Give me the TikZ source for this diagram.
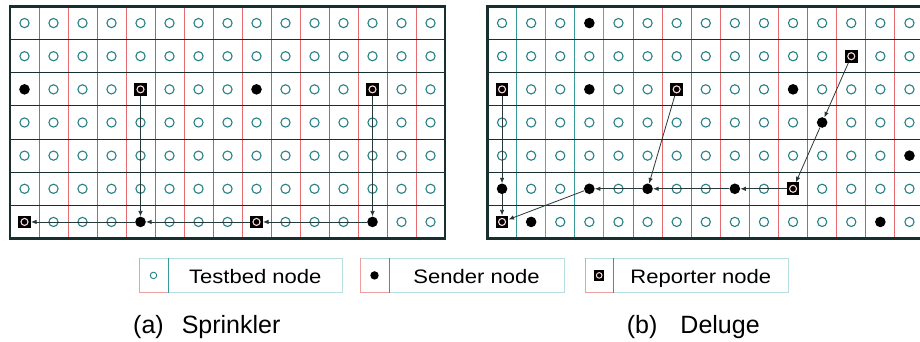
\documentclass[tikz,border=0pt]{standalone}
\usepackage{fontspec}
\setmainfont{Liberation Sans}
\newfontfamily\legfont{Liberation Sans}[FakeStretch=1.13]
\usetikzlibrary{arrows.meta}
\definecolor{gtea}{rgb}{0.22,0.60,0.60}
\definecolor{gred}{rgb}{0.90,0.42,0.44}
\definecolor{gdark}{rgb}{0.10,0.18,0.18}
\definecolor{ctea}{rgb}{0.15,0.50,0.52}
\definecolor{boxc}{rgb}{0.72,0.87,0.87}
\definecolor{boxr}{rgb}{0.93,0.62,0.62}
\definecolor{arrc}{rgb}{0.15,0.22,0.22}
\tikzset{
  tb/.style={circle,draw=ctea,line width=1.1pt,minimum size=9.2pt,inner sep=0pt},
  snd/.style={circle,fill=black,minimum size=10.6pt,inner sep=0pt},
  rep/.style={rectangle,fill=black,minimum size=12.6pt,inner sep=0pt,
    path picture={\draw[white!85!red,line width=1.1pt] (path picture bounding box.center) circle (3.5pt);}},
  legrep/.style={rep,minimum size=10.5pt,
    path picture={\draw[white!85!red,line width=1pt] (path picture bounding box.center) circle (2.8pt);}},
  arr/.style={draw=arrc,line width=0.8pt,-{Latex[length=5.5pt,width=4.5pt]}},
  vlinea/.style={draw=gtea,line width=0.9pt},
  vlineb/.style={draw=gred,line width=0.9pt},
  hline/.style={draw=gdark,line width=0.9pt},
  frame/.style={draw=gdark,line width=2.6pt},
  legbox/.style={draw=boxc,line width=0.8pt},
  legtext/.style={anchor=base,inner sep=0pt,font=\legfont\fontsize{19.5}{22}\selectfont,text=black},
  captext/.style={anchor=base west,inner sep=0pt,font=\fontsize{25}{28}\selectfont,text=black}
}
\newcommand\markspecial[3]{\expandafter\def\csname sp#1-#2-#3\endcsname{}}
% left panel specials
\markspecial{L}{1}{3}\markspecial{L}{9}{3}\markspecial{L}{5}{7}\markspecial{L}{13}{7}
\markspecial{L}{5}{3}\markspecial{L}{13}{3}\markspecial{L}{1}{7}\markspecial{L}{9}{7}
% right panel specials
\markspecial{R}{4}{1}\markspecial{R}{4}{3}\markspecial{R}{11}{3}\markspecial{R}{12}{4}
\markspecial{R}{15}{5}\markspecial{R}{1}{6}\markspecial{R}{4}{6}\markspecial{R}{6}{6}
\markspecial{R}{9}{6}\markspecial{R}{2}{7}\markspecial{R}{14}{7}
\markspecial{R}{13}{2}\markspecial{R}{1}{3}\markspecial{R}{7}{3}\markspecial{R}{11}{6}\markspecial{R}{1}{7}
\begin{document}
\begin{tikzpicture}[x=1pt,y=-1pt]
\useasboundingbox (0,0) rectangle (920,342);
\clip (0,0) rectangle (920,342);
% ---------- grids ----------
\foreach \P/\xo/\cw in {L/10/29, R/487.5/29.1} {
  \foreach \i in {1,...,14} {
    \ifodd\i\def\vs{vlinea}\else\def\vs{vlineb}\fi
    \draw[\vs] ({\xo+\i*\cw},6.5) -- ({\xo+\i*\cw},238.5);
  }
  \foreach \j in {1,...,6} {
    \draw[hline] (\xo,{6.5+\j*33.143}) -- ({\xo+15*\cw},{6.5+\j*33.143});
  }
  \draw[frame] (\xo,6.5) rectangle ({\xo+15*\cw},238.5);
  \foreach \c in {1,...,15} {
    \foreach \r in {1,...,7} {
      \coordinate (c\P-\c-\r) at ({\xo+(\c-0.5)*\cw},{6.5+(\r-0.5)*33.143});
      \ifcsname sp\P-\c-\r\endcsname\else
        \node[tb] (\P-\c-\r) at (c\P-\c-\r) {};
      \fi
    }
  }
}
% ---------- left panel: Sprinkler ----------
\foreach \c/\r in {1/3,9/3,5/7,13/7} { \node[snd] (L-\c-\r) at (cL-\c-\r) {}; }
\foreach \c/\r in {5/3,13/3,1/7,9/7} { \node[rep] (L-\c-\r) at (cL-\c-\r) {}; }
\draw[arr] (L-5-3) -- (L-5-7);
\draw[arr] (L-13-3) -- (L-13-7);
\draw[arr] (L-13-7) -- (L-9-7);
\draw[arr] (L-9-7) -- (L-5-7);
\draw[arr] (L-5-7) -- (L-1-7);
% ---------- right panel: Deluge ----------
\foreach \c/\r in {4/1,4/3,11/3,12/4,15/5,1/6,4/6,6/6,9/6,2/7,14/7} { \node[snd] (R-\c-\r) at (cR-\c-\r) {}; }
\foreach \c/\r in {13/2,1/3,7/3,11/6,1/7} { \node[rep] (R-\c-\r) at (cR-\c-\r) {}; }
\draw[arr] (R-13-2) -- (R-12-4);
\draw[arr] (R-12-4) -- (R-11-6);
\draw[arr] (R-11-6) -- (R-9-6);
\draw[arr] (R-9-6) -- (R-6-6);
\draw[arr] (R-7-3) -- (R-6-6);
\draw[arr] (R-6-6) -- (R-4-6);
\draw[arr] (R-4-6) -- (R-1-7);
\draw[arr] (R-1-3) -- (R-1-6);
\draw[arr] (R-1-6) -- (R-1-7);
% ---------- legend ----------
\draw[legbox] (139,258.3) rectangle (342.3,292.5);
\draw[legbox,draw=gtea] (168.3,258.3) -- (168.3,292.5);
\draw[draw=boxr,line width=0.8pt] (139,258.3) -- (139,292.5) -- (168.3,292.5);
\node[tb,line width=0.9pt,minimum size=6.5pt] (m1) at (153.5,275.4) {};
\node[legtext] (t1) at (255.3,283.3) {Testbed node};
\draw[legbox] (360,258.3) rectangle (564,292.5);
\draw[legbox,draw=gtea] (389,258.3) -- (389,292.5);
\draw[draw=boxr,line width=0.8pt] (360,258.3) -- (360,292.5) -- (389,292.5);
\node[snd,minimum size=8.4pt] (m2) at (374.5,275.4) {};
\node[legtext] (t2) at (476.5,283.3) {Sender node};
\draw[legbox] (585,258.3) rectangle (788.3,292.5);
\draw[legbox,draw=gtea] (613.3,258.3) -- (613.3,292.5);
\draw[draw=boxr,line width=0.8pt] (585,258.3) -- (585,292.5) -- (613.3,292.5);
\node[legrep] (m3) at (599.2,275.4) {};
\node[legtext] (t3) at (700.8,283.3) {Reporter node};
% ---------- captions ----------
\node[captext] (capa) at (133,333.3) {(a)\hspace{18pt}Sprinkler};
\node[captext] (capb) at (626.7,333.3) {(b)\hspace{23pt}Deluge};
\end{tikzpicture}
\end{document}
